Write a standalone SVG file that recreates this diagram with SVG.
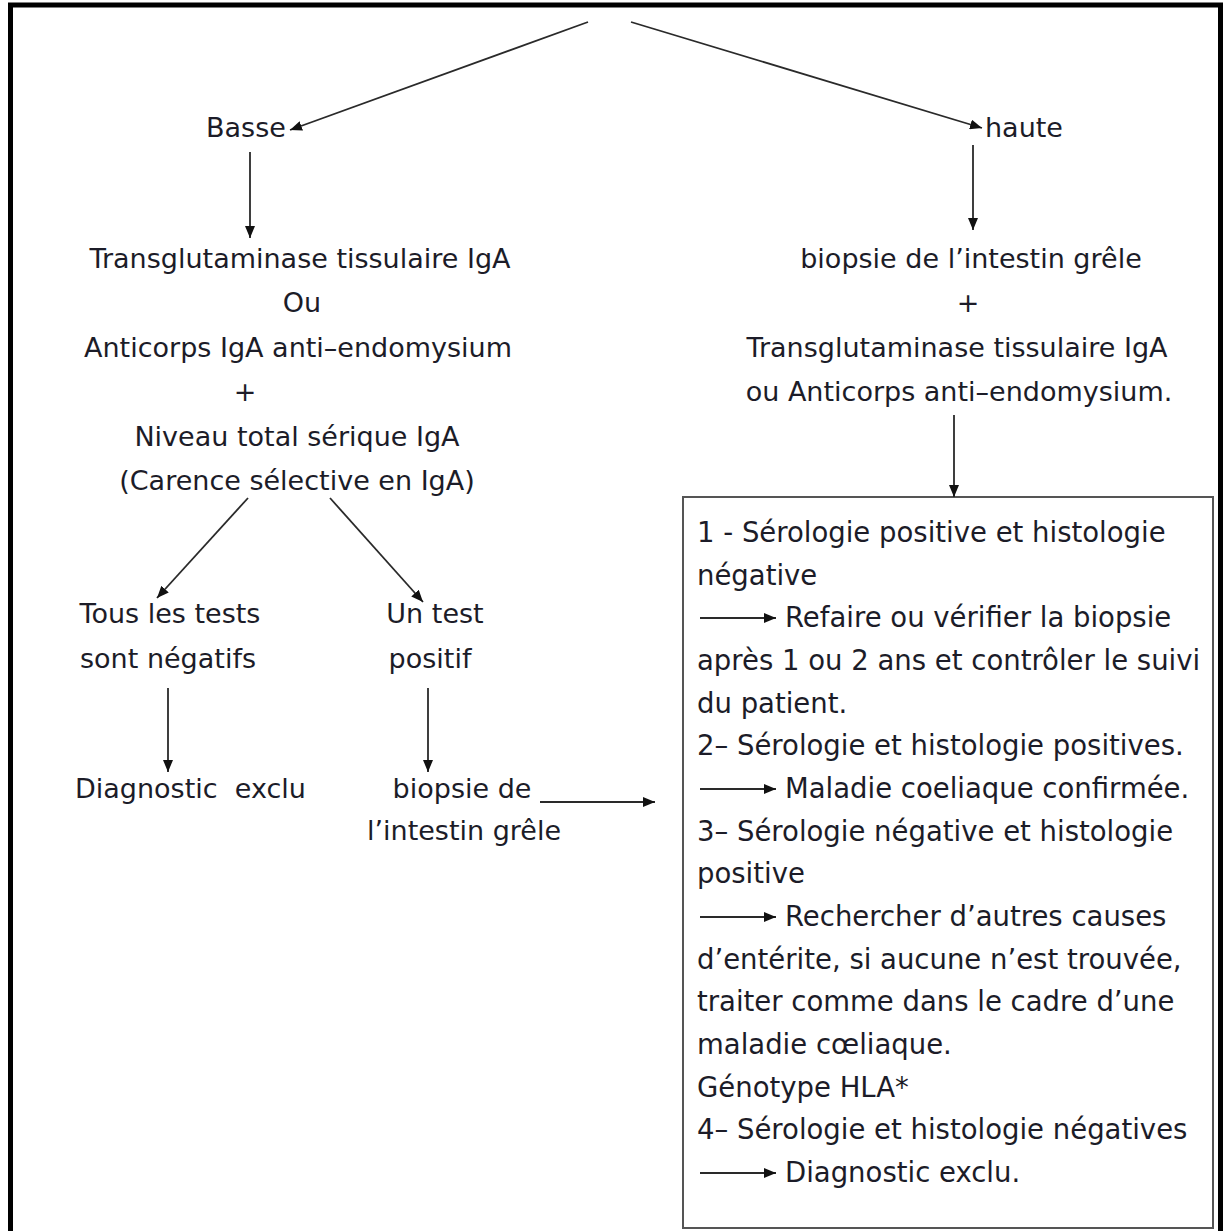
<svg xmlns="http://www.w3.org/2000/svg" width="1230" height="1231" viewBox="0 0 1230 1231">
<style>
text{font-family:"DejaVu Sans","Liberation Sans",sans-serif;font-size:27px;fill:#1c1c28}
.c{text-anchor:middle}
.b{font-size:27.5px}
.ln{stroke:#2a2a2a;stroke-width:1.8;fill:none}
</style>
<defs>
<marker id="ah" viewBox="0 0 12 10" markerWidth="12" markerHeight="10" refX="12" refY="5" orient="auto" markerUnits="userSpaceOnUse">
<path d="M0,0 L12,5 L0,10 z" fill="#111"/>
</marker>
</defs>
<rect x="0" y="0" width="1230" height="1231" fill="#fff"/>
<g id="frame"><path d="M10.5,1240 V5 H1220.5 V1240" fill="none" stroke="#000" stroke-width="5"/></g>
<g id="basse"><text x="206" y="137">Basse</text></g>
<g id="haute"><text x="985" y="137">haute</text></g>
<g id="left-tests">
<text class="c" x="300" y="268">Transglutaminase tissulaire IgA</text>
<text class="c" x="302" y="312">Ou</text>
<text class="c" x="298" y="357">Anticorps IgA anti–endomysium</text>
<text class="c" x="245" y="401">+</text>
<text class="c" x="297" y="446">Niveau total sérique IgA</text>
<text class="c" x="297" y="490">(Carence sélective en IgA)</text>
</g>
<g id="right-tests">
<text class="c" x="971" y="268">biopsie de l’intestin grêle</text>
<text class="c" x="968" y="312">+</text>
<text class="c" x="957" y="357">Transglutaminase tissulaire IgA</text>
<text class="c" x="959" y="401">ou Anticorps anti–endomysium.</text>
</g>
<g id="negatifs">
<text class="c" x="170" y="623">Tous les tests</text>
<text class="c" x="168" y="668">sont négatifs</text>
</g>
<g id="positif">
<text class="c" x="435" y="623">Un test</text>
<text class="c" x="430" y="668">positif</text>
</g>
<g id="exclu"><text x="75" y="798" xml:space="preserve">Diagnostic  exclu</text></g>
<g id="biopsie">
<text class="c" x="462" y="798">biopsie de</text>
<text class="c" x="464" y="840">l’intestin grêle</text>
</g>
<g id="resultats" class="b">
<rect x="683" y="497" width="530" height="731" fill="none" stroke="#555" stroke-width="2"/>
<text class="b" x="697" y="542">1 - Sérologie positive et histologie</text>
<text class="b" x="697" y="585">négative</text>
<text class="b" x="785" y="627">Refaire ou vérifier la biopsie</text>
<text class="b" x="697" y="670">après 1 ou 2 ans et contrôler le suivi</text>
<text class="b" x="697" y="713">du patient.</text>
<text class="b" x="697" y="755">2– Sérologie et histologie positives.</text>
<text class="b" x="785" y="798">Maladie coeliaque confirmée.</text>
<text class="b" x="697" y="841">3– Sérologie négative et histologie</text>
<text class="b" x="697" y="883">positive</text>
<text class="b" x="785" y="926">Rechercher d’autres causes</text>
<text class="b" x="697" y="969">d’entérite, si aucune n’est trouvée,</text>
<text class="b" x="697" y="1011">traiter comme dans le cadre d’une</text>
<text class="b" x="697" y="1054">maladie cœliaque.</text>
<text class="b" x="697" y="1097">Génotype HLA*</text>
<text class="b" x="697" y="1139">4– Sérologie et histologie négatives</text>
<text class="b" x="785" y="1182">Diagnostic exclu.</text>
</g>
<g id="connectors" class="ln">
<line x1="588" y1="22" x2="290" y2="130" marker-end="url(#ah)"/>
<line x1="631" y1="22" x2="982" y2="128" marker-end="url(#ah)"/>
<line x1="250" y1="152" x2="250" y2="238" marker-end="url(#ah)"/>
<line x1="973" y1="145" x2="973" y2="230" marker-end="url(#ah)"/>
<line x1="954" y1="415" x2="954" y2="497" marker-end="url(#ah)"/>
<line x1="248" y1="498" x2="157" y2="598" marker-end="url(#ah)"/>
<line x1="330" y1="498" x2="423" y2="602" marker-end="url(#ah)"/>
<line x1="168" y1="688" x2="168" y2="772" marker-end="url(#ah)"/>
<line x1="428" y1="688" x2="428" y2="772" marker-end="url(#ah)"/>
<line x1="540" y1="802" x2="655" y2="802" marker-end="url(#ah)"/>
<line x1="700" y1="618" x2="776" y2="618" marker-end="url(#ah)"/>
<line x1="700" y1="789" x2="776" y2="789" marker-end="url(#ah)"/>
<line x1="700" y1="917" x2="776" y2="917" marker-end="url(#ah)"/>
<line x1="700" y1="1173" x2="776" y2="1173" marker-end="url(#ah)"/>
</g>
</svg>
